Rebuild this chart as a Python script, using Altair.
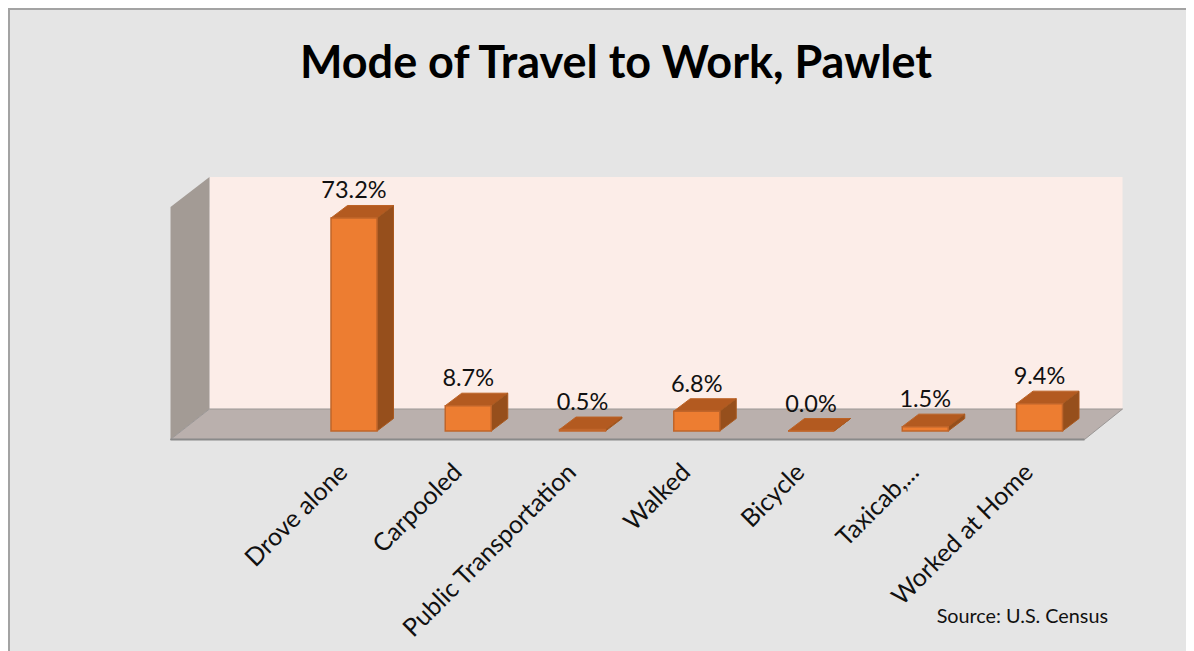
import altair as alt
import pandas as pd

categories = ["Drove alone", "Carpooled", "Public Transportation", "Walked", "Bicycle", "Taxicab,...", "Worked at Home"]
values = [73.2, 8.7, 0.5, 6.8, 0.0, 1.5, 9.4]
labels = ["73.2%", "8.7%", "0.5%", "6.8%", "0.0%", "1.5%", "9.4%"]

W, H = 1178, 643
UX = 114.25  # px per category
UY = 2.91    # px per percent
X0, Y0 = 354 - 8, 431 - 8   # canvas position of category 0 / value 0
xs = alt.Scale(domain=[-X0 / UX, (W - X0) / UX], nice=False, zero=False)
ys = alt.Scale(domain=[(Y0 - H) / UY, Y0 / UY], nice=False, zero=False)
X = lambda f, **k: alt.X(f, type="quantitative", scale=xs, axis=None, **k)
Y = lambda f, **k: alt.Y(f, type="quantitative", scale=ys, axis=None, **k)

half = 23 / UX
dx = 16.5 / UX
dy = 12.5 / UY
FRONT, BACK, TOP = -2.92, 7.56, 87.3
LF, LB, RF, RB = -1.606, -1.265, 6.394, 6.727

idx = list(range(len(values)))
bars = pd.DataFrame({"i": idx, "cat": categories, "v": values, "label": labels,
                     "x": [i - half for i in idx], "x2": [i + half for i in idx]})
tops = pd.DataFrame(
    [{"i": i, "y": v, "a": i - half, "b": i + half} for i, v in zip(idx, values)]
    + [{"i": i, "y": v + dy, "a": i - half + dx, "b": i + half + dx} for i, v in zip(idx, values)]
)
sides = pd.DataFrame(
    [{"i": i, "x": i + half, "lo": 0, "hi": v} for i, v in zip(idx, values)]
    + [{"i": i, "x": i + half + dx, "lo": dy, "hi": v + dy} for i, v in zip(idx, values)]
)
bars["ly"] = bars["v"] + dy + 7 / UY
bars["lab_x"] = bars["i"] - 10.5 / UX
bars["lab_y"] = -12.8

wall = alt.Chart(pd.DataFrame({"x": [LB], "x2": [RB], "y": [BACK], "y2": [TOP]})).mark_rect(color="#fcede8").encode(
    x=X("x"), x2="x2", y=Y("y"), y2="y2")
left = alt.Chart(pd.DataFrame({"x": [LF, LB], "lo": [FRONT, BACK], "hi": [TOP - 10.3, TOP]})).mark_area(color="#a39b95").encode(
    x=X("x"), y=Y("lo"), y2="hi")
floor = alt.Chart(pd.DataFrame({"y": [FRONT, BACK], "a": [LF, LB], "b": [RF, RB]})).mark_area(
    orient="horizontal", color="#bab0ad", stroke="#9b9796", strokeWidth=1).encode(
    y=Y("y"), x=X("a"), x2="b")
edge = alt.Chart(pd.DataFrame({"x": [LF], "x2": [RF], "y": [FRONT]})).mark_rule(color="#8a8a8a", strokeWidth=2).encode(
    x=X("x"), x2="x2", y=Y("y"))
top_f = alt.Chart(tops).mark_area(orient="horizontal", color="#b35a20", stroke="#bd6326", strokeWidth=1).encode(
    y=Y("y"), x=X("a"), x2="b", detail="i:N")
side_f = alt.Chart(sides).mark_area(color="#964f1c", stroke="#a9591f", strokeWidth=1).encode(
    x=X("x"), y=Y("lo"), y2="hi", detail="i:N")
front = alt.Chart(bars).mark_rect(color="#ed7d31", stroke="#c0652a", strokeWidth=1.5).encode(
    x=X("x"), x2="x2", y=Y("v"), y2=alt.Y2(datum=0))
val_txt = alt.Chart(bars).mark_text(font="Lato", fontSize=23.5, color="#111111", baseline="alphabetic").encode(
    x=X("i"), y=Y("ly"), text="label:N")
cat_txt = alt.Chart(bars).mark_text(font="Lato", fontSize=25, color="#111111", align="right", baseline="middle", angle=315).encode(
    x=X("lab_x"), y=Y("lab_y"), text="cat:N")
src = alt.Chart(pd.DataFrame({"x": [(1108 - 8 - X0) / UX], "y": [(Y0 - (623 - 8)) / UY], "t": ["Source: U.S. Census"]})).mark_text(
    font="Lato", fontSize=19.8, color="#111111", align="right", baseline="alphabetic").encode(
    x=X("x"), y=Y("y"), text="t:N")
bl = alt.Chart(pd.DataFrame({"a": [0]})).mark_rule(color="#a3a3a3", strokeWidth=2).encode(
    x=alt.value(1), y=alt.value(0), y2=alt.value(H))
bt = alt.Chart(pd.DataFrame({"a": [0]})).mark_rule(color="#a3a3a3", strokeWidth=2).encode(
    y=alt.value(1), x=alt.value(0), x2=alt.value(W))

chart = alt.layer(bl, bt, wall, left, floor, edge, top_f, side_f, front, val_txt, cat_txt, src).properties(
    width=W, height=H, padding=0,
    autosize=alt.AutoSizeParams(type="none"),
    background="#e5e5e5",
    title=alt.TitleParams("Mode of Travel to Work, Pawlet", font="Lato", fontSize=45, fontWeight="bold",
                          color="#000000", anchor="middle", dx=19, dy=120, baseline="alphabetic"),
).configure_view(stroke=None)

chart.save("out.html", embed_options={"renderer": "svg", "actions": False})
